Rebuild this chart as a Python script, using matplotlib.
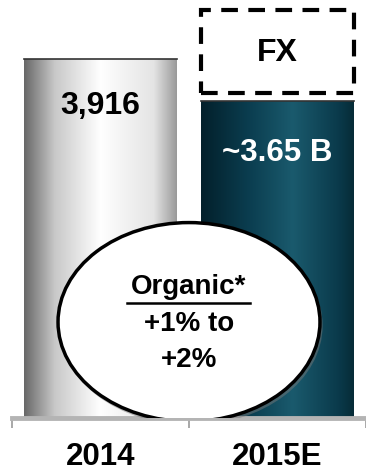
import numpy as np
import matplotlib.pyplot as plt
from matplotlib.patches import Ellipse
from matplotlib.colors import LinearSegmentedColormap

plt.rcParams['font.family'] = ['Liberation Sans', 'DejaVu Sans']
plt.rcParams['font.weight'] = 'bold'

years = ["2014", "2015E"]
values = [3916, 3650]
value_labels = ["3,916", "~3.65 B"]
fx_low, fx_high = 3700, 4226
organic_text = ["+1% to", "+2%"]

ymin, ymax = 1642, 4290

fig = plt.figure(figsize=(3.66, 4.71), dpi=100)
ax = fig.add_axes([12 / 366, 53 / 471, 354 / 366, 418 / 471])

gray = LinearSegmentedColormap.from_list("g", [(0, "#686868"), (0.2, "#c8c8c8"), (0.5, "#ffffff"),
                                              (0.85, "#e4e4e4"), (1, "#9a9a9a")])
teal = LinearSegmentedColormap.from_list("t", [(0, "#03202b"), (0.3, "#0a3c4e"), (0.6, "#1a5a6d"),
                                              (0.9, "#0a3a4b"), (1, "#062b37")])
grad = np.linspace(0, 1, 256).reshape(1, -1)

bars = ax.bar(range(len(years)), values, width=0.86, bottom=0, color="none", edgecolor="none")
for b, cm in zip(bars, [gray, teal]):
    x0, w, h = b.get_x(), b.get_width(), b.get_height()
    im = ax.imshow(grad, cmap=cm, aspect="auto", extent=[x0, x0 + w, ymin, h], zorder=1)
    im.set_clip_path(b)
    ax.plot([x0, x0 + w], [h, h], color="#333333", lw=1.2, zorder=2)
ax.set_xlim(-0.5, 1.5)
ax.set_ylim(ymin, ymax)

# FX dashed box
ax.bar(1, fx_high - fx_low, bottom=fx_low, width=0.86, color="white", edgecolor="black",
       lw=3, linestyle=(0, (4, 2.5)), zorder=3)
ax.text(1, (fx_low + fx_high) / 2 - 10, "FX", ha="center", va="center", fontsize=23, zorder=4)

ax.text(0, values[0] - 300, value_labels[0], ha="center", va="center", fontsize=23, color="black", zorder=4)
ax.text(1, values[1] - 330, value_labels[1], ha="center", va="center", fontsize=22.5, color="white", zorder=4)

# organic ellipse with shadow
ax.add_patch(Ellipse((0.51, 2228), 1.49, 1262, facecolor="#777777", edgecolor="none", alpha=0.5, zorder=5))
ax.add_patch(Ellipse((0.5, 2250), 1.48, 1260, facecolor="white", edgecolor="black", lw=2.5, zorder=6))
ax.text(0.5, 2475, "Organic*", ha="center", va="center", fontsize=20, zorder=7)
ax.plot([0.15, 0.845], [2370, 2370], color="black", lw=1.8, zorder=7)
ax.text(0.5, 2240, organic_text[0], ha="center", va="center", fontsize=20, zorder=7)
ax.text(0.5, 2010, organic_text[1], ha="center", va="center", fontsize=20, zorder=7)

for s in ["top", "right", "left"]:
    ax.spines[s].set_visible(False)
ax.spines["bottom"].set_color("#b4b4b4")
ax.spines["bottom"].set_linewidth(3.5)
ax.set_yticks([])
ax.set_xticks(range(len(years)))
ax.set_xticklabels(years, fontsize=22.5)
ax.tick_params(axis="x", which="major", length=0, pad=17)
ax.set_xticks([-0.5, 0.5, 1.5], minor=True)
ax.tick_params(axis="x", which="minor", length=7, width=1.2, color="#9a9a9a")

fig.savefig("out.png", dpi=100)
